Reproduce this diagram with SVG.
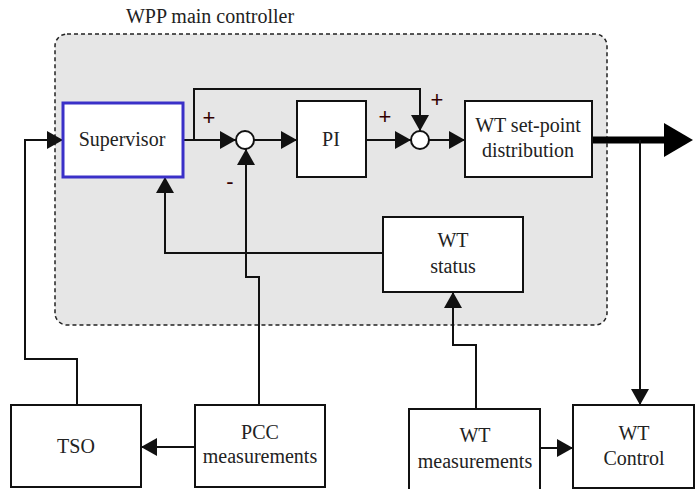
<svg xmlns="http://www.w3.org/2000/svg" width="696" height="489" viewBox="0 0 696 489">
<style>
.box{fill:#fff;stroke:#111;stroke-width:2}
.sup{fill:#fff;stroke:#3a30c8;stroke-width:3}
.t{font-size:20px;fill:#222;text-anchor:middle}
.s{font-family:'Liberation Sans',sans-serif;font-size:22px;fill:#300;text-anchor:middle}
.c{fill:none;stroke:#111;stroke-width:2}
</style>
<defs>
<marker id="a" viewBox="0 0 16 18" refX="16" refY="9" markerWidth="16" markerHeight="18" markerUnits="userSpaceOnUse" orient="auto">
<path d="M0,0 L16,9 L0,18 z" fill="#111"/>
</marker>
</defs>
<g font-family="Liberation Serif, Times New Roman, Tinos, Noto Serif, DejaVu Serif, serif">
<g id="container">
<rect x="55" y="34" width="552" height="291" rx="12" fill="#e6e6e6" stroke="#222" stroke-width="1.5" stroke-dasharray="4,3"/>
<text class="t" x="210" y="23">WPP main controller</text>
</g>
<g id="connectors">
<path class="c" d="M77,405 V359 H25 V140 H63" marker-end="url(#a)"/>
<path class="c" d="M183,140 H236" marker-end="url(#a)"/>
<path class="c" d="M194,140 V89 H420 V131" marker-end="url(#a)"/>
<path class="c" d="M254,140 H297" marker-end="url(#a)"/>
<path class="c" d="M259,405 V277 H246 V149" marker-end="url(#a)"/>
<path class="c" d="M366,140 H411" marker-end="url(#a)"/>
<path class="c" d="M429,140 H465" marker-end="url(#a)"/>
<path d="M592,140 H666" fill="none" stroke="#000" stroke-width="7"/>
<path d="M664,123 L693,140 L664,157 z" fill="#000"/>
<path class="c" d="M640,140 V405" marker-end="url(#a)"/>
<path class="c" d="M383,253 H165 V177" marker-end="url(#a)"/>
<path class="c" d="M476,409 V345 H453 V292" marker-end="url(#a)"/>
<path class="c" d="M540,448 H573" marker-end="url(#a)"/>
<path class="c" d="M195,447 H141" marker-end="url(#a)"/>
<text class="s" x="209" y="125">+</text>
<text class="s" x="385" y="124">+</text>
<text class="s" x="437" y="107">+</text>
<text class="s" x="230" y="189">-</text>
</g>
<g id="supervisor">
<rect class="sup" x="63" y="103" width="120" height="74"/>
<text class="t" x="122" y="146">Supervisor</text>
</g>
<g id="sum1"><circle cx="245" cy="140" r="9" fill="#fff" stroke="#111" stroke-width="2"/></g>
<g id="pi">
<rect class="box" x="297" y="101" width="69" height="76"/>
<text class="t" x="331" y="146">PI</text>
</g>
<g id="sum2"><circle cx="420" cy="140" r="9" fill="#fff" stroke="#111" stroke-width="2"/></g>
<g id="setpoint">
<rect class="box" x="465" y="101" width="127" height="76"/>
<text class="t" x="528" y="132">WT set-point</text>
<text class="t" x="528" y="157">distribution</text>
</g>
<g id="status">
<rect class="box" x="383" y="217" width="140" height="75"/>
<text class="t" x="453" y="247">WT</text>
<text class="t" x="453" y="273">status</text>
</g>
<g id="tso">
<rect class="box" x="11" y="405" width="130" height="82"/>
<text class="t" x="76" y="453">TSO</text>
</g>
<g id="pcc">
<rect class="box" x="195" y="405" width="130" height="82"/>
<text class="t" x="260" y="439">PCC</text>
<text class="t" x="260" y="463">measurements</text>
</g>
<g id="wtmeas">
<rect class="box" x="409" y="409" width="131" height="84"/>
<text class="t" x="475" y="442">WT</text>
<text class="t" x="475" y="468">measurements</text>
</g>
<g id="wtcontrol">
<rect class="box" x="573" y="405" width="121" height="83"/>
<text class="t" x="634" y="440">WT</text>
<text class="t" x="634" y="465">Control</text>
</g>
</g>
</svg>
